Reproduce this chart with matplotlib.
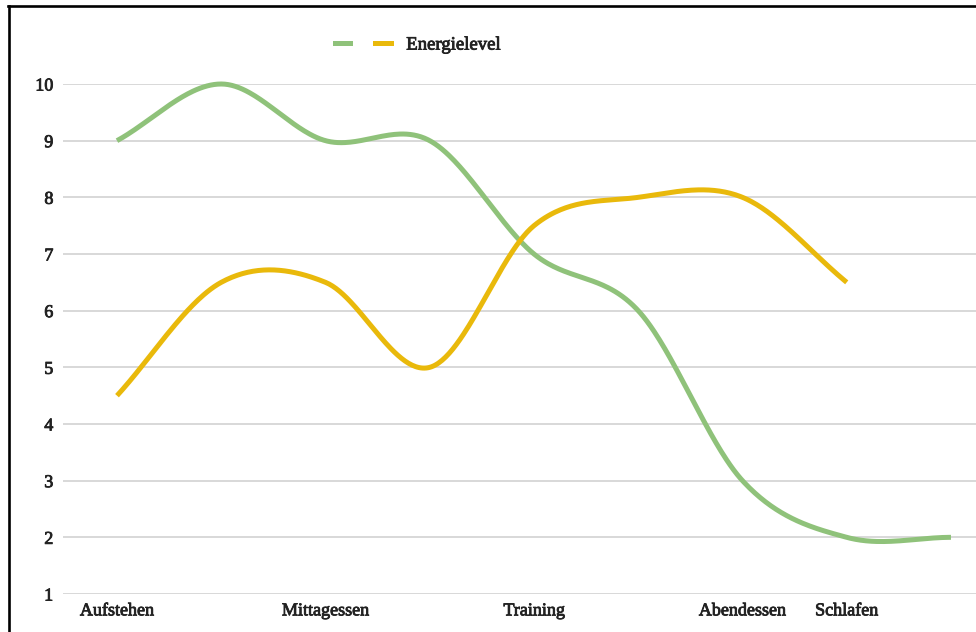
import numpy as np
import matplotlib
matplotlib.use("Agg")
import matplotlib.pyplot as plt
import matplotlib.patheffects as pe
from matplotlib.lines import Line2D

# Data
categories = ["Aufstehen", "", "Mittagessen", "", "Training", "", "Abendessen", "Schlafen", ""]
green_values = [9, 10, 9, 9, 7, 6, 3, 2, 2]
yellow_values = [4.5, 6.5, 6.5, 5, 7.5, 8, 8, 6.5]
yellow_label = "Energielevel"
y_ticks = list(range(1, 11))

GREEN = "#8fc27a"
YELLOW = "#e9b90b"
TEXT = "#222222"


def smooth(values, n=60):
    # Catmull-Rom style curve through the points (like the "smooth" option in Sheets)
    y = np.asarray(values, dtype=float)
    k = len(y)
    m = np.zeros(k)
    m[1:-1] = (y[2:] - y[:-2]) / 2
    m[0] = y[1] - y[0]
    m[-1] = y[-1] - y[-2]
    xs, ys = [], []
    t = np.linspace(0, 1, n)
    h00 = 2 * t**3 - 3 * t**2 + 1
    h10 = t**3 - 2 * t**2 + t
    h01 = -2 * t**3 + 3 * t**2
    h11 = t**3 - t**2
    for i in range(k - 1):
        xs.append(i + t)
        ys.append(h00 * y[i] + h10 * m[i] + h01 * y[i + 1] + h11 * m[i + 1])
    return np.concatenate(xs), np.concatenate(ys)


plt.rcParams["font.family"] = ["Liberation Serif", "DejaVu Serif"]
bolder = [pe.withStroke(linewidth=0.6, foreground=TEXT)]

fig = plt.figure(figsize=(9.76, 6.32), dpi=100)
ax = fig.add_axes([63 / 976, 38 / 632, 1 - 63 / 976, 510 / 632])

gx, gy = smooth(green_values)
yx, yy = smooth(yellow_values)
ax.plot(gx, gy, color=GREEN, lw=3.6, solid_capstyle="butt", clip_on=False, zorder=3)
ax.plot(yx, yy, color=YELLOW, lw=3.6, solid_capstyle="butt", clip_on=False, zorder=3)

ax.set_xlim(-0.518, 8.24)
ax.set_ylim(1, 10)
ax.set_yticks(y_ticks)
ax.set_yticklabels([str(v) for v in y_ticks])
ax.grid(axis="y", color="#d6d6d6", lw=1.3)
ax.set_axisbelow(True)

label_pos = [i for i, c in enumerate(categories) if c]
ax.set_xticks(label_pos)
ax.set_xticklabels([categories[i] for i in label_pos])

for s in ax.spines.values():
    s.set_visible(False)
ax.tick_params(axis="both", length=0, colors=TEXT, labelsize=13)
ax.tick_params(axis="y", pad=7)
ax.tick_params(axis="x", pad=6)
for lab in ax.get_xticklabels() + ax.get_yticklabels():
    lab.set_path_effects(bolder)

handles = [Line2D([], [], color=GREEN, lw=3.6), Line2D([], [], color=YELLOW, lw=3.6)]
leg = fig.legend(handles, ["", yellow_label], ncol=2, loc="center left",
                 bbox_to_anchor=(335 / 976, 1 - 45 / 632), frameon=False,
                 borderpad=0, borderaxespad=0, handlelength=0.82, handletextpad=0.84,
                 columnspacing=0.48, fontsize=13.5, labelcolor=TEXT)
for txt in leg.get_texts():
    txt.set_path_effects(bolder)

# black frame visible on the left and top edges
fig.add_artist(Line2D([8.5 / 976, 8.5 / 976], [0, 1 - 6 / 632], color="black", lw=1.9,
                      transform=fig.transFigure))
fig.add_artist(Line2D([7.6 / 976, 1], [1 - 6 / 632, 1 - 6 / 632], color="black", lw=1.9,
                      transform=fig.transFigure))

fig.savefig("out.png", dpi=100)
